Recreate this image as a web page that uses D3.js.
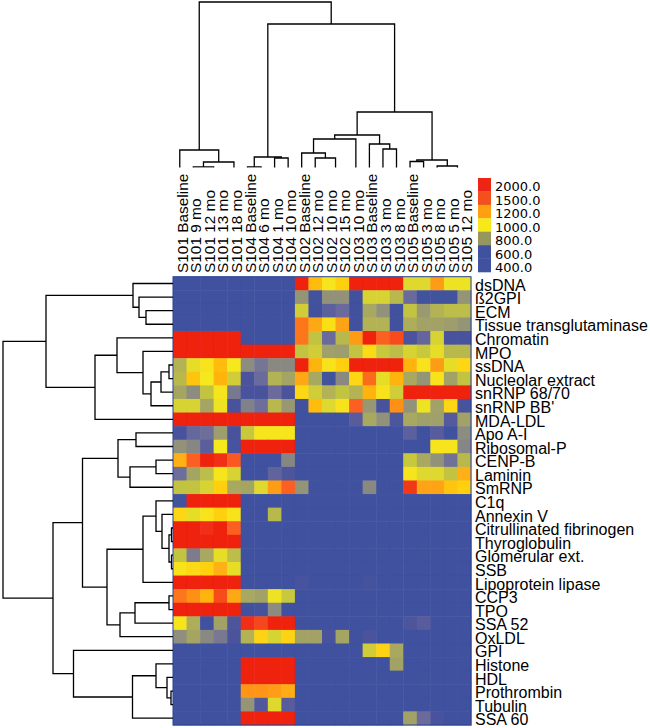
<!DOCTYPE html>
<html>
<head>
<meta charset="utf-8">
<script src="https://cdnjs.cloudflare.com/ajax/libs/d3/7.8.5/d3.min.js"></script>
<style>
body { margin: 0; background: #fff; }
text { font-family: "Liberation Sans", Arial, sans-serif; fill: #000; }
</style>
</head>
<body>
<div id="chart"></div>
<script>
var columns = ["S101 Baseline", "S101 9 mo", "S101 12 mo", "S101 13 mo", "S101 18 mo",
    "S104 Baseline", "S104 6 mo", "S104 1 mo", "S104 10 mo",
    "S102 Baseline", "S102 12 mo", "S102 10 mo", "S102 15 mo",
    "S103 10 mo", "S103 Baseline", "S103 3 mo", "S103 8 mo",
    "S105 Baseline", "S105 3 mo", "S105 8 mo", "S105 5 mo", "S105 12 mo"];

var antigens = ["dsDNA", "ß2GPI", "ECM", "Tissue transglutaminase", "Chromatin", "MPO", "ssDNA",
    "Nucleolar extract", "snRNP 68/70", "snRNP BB'", "MDA-LDL", "Apo A-I", "Ribosomal-P", "CENP-B",
    "Laminin", "SmRNP", "C1q", "Annexin V", "Citrullinated fibrinogen", "Thyroglobulin",
    "Glomerular ext.", "SSB", "Lipoprotein lipase", "CCP3", "TPO", "SSA 52", "OxLDL", "GPI",
    "Histone", "HDL", "Prothrombin", "Tubulin", "SSA 60"];

// one row per antigen, one value per column
var values = [
    [450,450,450,450,450,450,450,450,450,2000,1150,1030,1100,2000,2000,2000,2000,990,990,1250,1010,1010],
    [450,450,450,450,450,450,450,450,450,830,480,820,820,470,980,980,930,680,480,480,480,830],
    [450,450,450,450,450,450,450,450,450,970,470,620,680,470,900,820,470,950,850,920,940,940],
    [450,450,450,450,450,450,450,450,450,1400,1200,1050,1220,470,920,920,470,910,880,880,860,830],
    [2000,2000,2000,2000,2000,450,450,450,450,1400,950,680,930,1250,2000,1500,1650,550,650,980,520,520],
    [2000,2000,2000,2000,2000,2000,2000,2000,2000,950,970,870,860,950,1060,960,940,980,960,1000,930,930],
    [920,1000,1040,1150,1020,800,720,790,790,2000,1170,1040,1100,2000,2000,2000,2000,1170,1040,1250,1000,1080],
    [930,1130,1020,1170,970,550,680,920,890,1200,900,480,790,1080,1450,1000,1170,900,830,1040,880,950],
    [890,800,950,1030,730,520,520,680,540,1080,970,920,950,920,1170,1040,970,2000,2000,2000,2000,2000],
    [980,980,890,1010,520,760,690,930,840,470,1150,990,1040,1500,840,520,1300,820,1010,880,1080,500],
    [2000,2000,2000,2000,2000,2000,2000,2000,2000,450,450,450,450,600,900,820,560,900,870,870,590,880],
    [530,660,690,860,520,960,1030,1030,1030,450,450,450,450,450,450,450,450,620,450,600,450,800],
    [820,780,610,1020,500,2000,2000,2000,2000,450,450,450,450,450,450,450,450,450,450,1030,1030,780],
    [1180,1500,2000,1900,1550,450,450,450,780,450,450,450,450,450,450,450,450,960,900,820,700,930],
    [690,890,940,1030,980,450,450,640,560,450,450,450,450,450,450,450,450,1030,990,990,950,1180],
    [950,950,980,1100,900,890,990,1250,1500,830,450,450,450,450,790,450,450,1800,1220,1220,1130,1100],
    [480,2000,2000,2000,2000,450,450,450,450,450,450,450,450,450,450,450,450,450,450,450,450,450],
    [1080,1000,1040,1100,1040,450,450,930,450,450,450,450,450,450,450,450,450,450,450,450,450,450],
    [2000,2000,1900,2000,1500,450,450,450,450,450,450,450,450,450,450,450,450,450,450,450,450,450],
    [2000,2000,2000,2000,2000,450,450,450,450,450,450,450,450,450,450,450,450,450,450,450,450,450],
    [950,740,900,1000,940,450,450,450,450,450,450,450,450,450,450,450,450,450,450,450,450,450],
    [1040,1070,1100,1180,1000,450,450,450,450,450,450,450,450,450,450,450,450,450,450,450,450,450],
    [2000,2000,2000,2000,2000,450,450,450,450,500,450,450,450,450,490,450,450,450,450,450,450,450],
    [1400,1300,1170,1650,1200,900,880,1010,960,450,450,450,450,450,450,450,450,450,450,450,450,450],
    [2000,2000,2000,2000,2000,450,490,800,450,450,450,450,450,450,450,450,450,450,450,450,450,450],
    [1030,910,450,880,560,1900,1700,2000,2000,450,450,450,450,450,450,450,450,560,600,450,450,450],
    [810,890,790,730,540,920,1090,980,1090,880,880,530,890,450,540,450,450,450,450,450,450,450],
    [450,450,450,450,450,450,450,450,450,450,450,450,450,450,970,1090,900,450,450,450,450,450],
    [450,450,450,450,450,2000,2000,2000,2000,450,450,450,450,450,450,450,880,450,450,450,450,450],
    [450,450,450,450,450,2000,2000,2000,2000,450,450,450,450,450,450,450,450,450,450,450,450,450],
    [450,450,450,450,450,1280,1280,1240,1190,450,450,450,450,450,450,450,450,450,450,450,450,450],
    [450,450,450,450,450,830,580,990,600,450,450,450,450,450,450,450,450,450,450,450,450,450],
    [450,450,450,450,450,2000,2000,2000,2000,450,450,450,450,450,450,450,450,880,680,520,450,450]
];

var legendValues = [2000, 1500, 1200, 1000, 800, 600, 400];
var legendColors = ["#ee2515", "#f4501e", "#ffa010", "#f7e81a", "#96965f", "#3f519f", "#3f519f"];
var legendLabels = ["2000.0", "1500.0", "1200.0", "1000.0", "800.0", "600.0", "400.0"];

var colorStops = [450, 550, 680, 800, 900, 960, 1020, 1100, 1200, 1500, 2000];
var colorRange = ["#3f519f", "#4c539c", "#6a6b9c", "#8c8c80", "#a8a860", "#c8c83c", "#f5e81e", "#ffd010", "#ffa812", "#fb5f22", "#ee2010"];

// dendrograms: [merge height, left child, right child], a number alone is a leaf index
var colTree = [168,
    [20, 0, [8, [3, 1, [1, 2, 3]], 4]],
    [146,
        [13, [3, 5, 6], [12, 7, 8]],
        [58,
            [35,
                [31, [17, 9, [12, 10, [1, 11, 12]]], 13],
                [26, 14, [21, 15, 16]]],
            [10, [8.5, 17, 18], [4, 19, [1, 20, 21]]]]]];

var rowTree = [170,
    [127,
        [40, 0, [34, 1, [27, 2, 3]]],
        [78, [56, 4, [30, 5, [22, [12, [4, 6, 7], 8], 9]]], 10]],
    [120,
        [90.5,
            [55, [37, 11, 12], [43, [17, 13, 14], 15]],
            [66,
                [30, [17, 16, [11, 17, [4, [1.5, 18, 19], [1.5, 20, 21]]]], 22],
                [53, [38, [4, 23, 24], 25], 26]]],
        [99.5, 27, [40.5, [17, 28, [6, 29, [2, 30, 31]]], 32]]]];

var svg = d3.select("#chart").append("svg")
    .attr("width", 650)
    .attr("height", 728);

var x = d3.scaleBand().domain(d3.range(columns.length)).range([173, 471]);
var y = d3.scaleBand().domain(d3.range(antigens.length)).range([276.7, 725]);
var color = d3.scaleLinear().domain(colorStops).range(colorRange).clamp(true);

// the reference is a soft low-res picture, a slight blur takes the hard edges off the cells
svg.append("filter").attr("id", "soft").append("feGaussianBlur").attr("stdDeviation", 0.5);

// heatmap cells
var heat = svg.append("g").attr("filter", "url(#soft)");
var rows = heat.selectAll("g").data(values).enter().append("g")
    .attr("transform", (d, i) => `translate(0,${y(i)})`);
rows.selectAll("rect").data(d => d).enter().append("rect")
    .attr("x", (d, i) => x(i))
    .attr("width", x.bandwidth() + 0.5)
    .attr("height", y.bandwidth() + 0.5)
    .attr("fill", d => color(d));
svg.append("rect")
    .attr("x", 173).attr("y", 276.7).attr("width", 298).attr("height", 448.3)
    .attr("fill", "none").attr("stroke", "#2b4596").attr("stroke-width", 1);

// row labels
svg.append("g").selectAll("text").data(antigens).enter().append("text")
    .attr("x", 475)
    .attr("y", (d, i) => y(i) + y.bandwidth() / 2)
    .attr("dy", "0.45em")
    .attr("font-size", 16)
    .text(d => d);

// column labels
svg.append("g").selectAll("text").data(columns).enter().append("text")
    .attr("transform", (d, i) => `translate(${x(i) + x.bandwidth() / 2 + 2.5},273) rotate(-90)`)
    .attr("dy", "0.36em")
    .attr("font-size", 15.4)
    .text(d => d);

// walks a tree, returns the leaf-axis position of the node and collects the segments
function layoutTree(node, leafPos, out) {
    if (typeof node === "number") return {pos: leafPos(node), h: 0};
    var a = layoutTree(node[1], leafPos, out);
    var b = layoutTree(node[2], leafPos, out);
    out.push({h: node[0], a: a, b: b});
    return {pos: (a.pos + b.pos) / 2, h: node[0]};
}

var colCentre = i => x(i) + x.bandwidth() / 2;
var rowCentre = i => y(i) + y.bandwidth() / 2;

var colHeight = d3.scaleLinear().domain([0, 168]).range([170, 2]);
var rowHeight = d3.scaleLinear().domain([0, 170]).range([173, 3]);

var colSegments = [];
layoutTree(colTree, colCentre, colSegments);
var rowSegments = [];
layoutTree(rowTree, rowCentre, rowSegments);

// the top tree is cut off just above the labels
svg.append("clipPath").attr("id", "colClip").append("rect")
    .attr("x", 0).attr("y", 0).attr("width", 650).attr("height", 167.5);

svg.append("g").attr("clip-path", "url(#colClip)")
    .selectAll("path").data(colSegments).enter().append("path")
    .attr("fill", "none").attr("stroke", "#000").attr("stroke-width", 1.3)
    .attr("d", d => `M${d.a.pos},${colHeight(d.a.h)}V${colHeight(d.h)}H${d.b.pos}V${colHeight(d.b.h)}`);

svg.append("g")
    .selectAll("path").data(rowSegments).enter().append("path")
    .attr("fill", "none").attr("stroke", "#000").attr("stroke-width", 1.3)
    .attr("d", d => `M${rowHeight(d.a.h)},${d.a.pos}H${rowHeight(d.h)}V${d.b.pos}H${rowHeight(d.b.h)}`);

// legend
var legendY = d3.scaleBand().domain(legendValues).range([178, 272]);
svg.append("g").selectAll("rect").data(legendValues).enter().append("rect")
    .attr("x", 478)
    .attr("y", d => legendY(d))
    .attr("width", 13)
    .attr("height", legendY.bandwidth() + 0.3)
    .attr("fill", (d, i) => legendColors[i]);
svg.append("g").selectAll("text").data(legendLabels).enter().append("text")
    .attr("x", 495)
    .attr("y", (d, i) => legendY(legendValues[i]) + legendY.bandwidth() / 2 + 2)
    .attr("dy", "0.36em")
    .attr("font-size", 13)
    .style("font-family", "'DejaVu Sans', sans-serif")
    .text(d => d);
</script>
</body>
</html>
